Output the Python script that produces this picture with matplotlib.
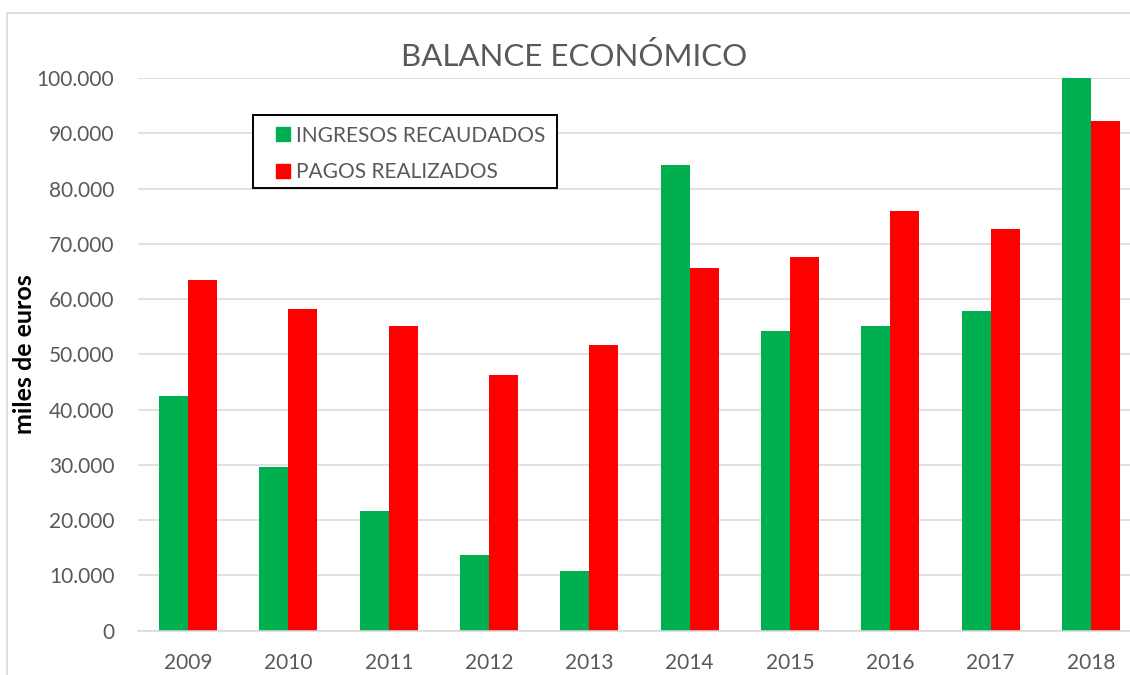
import matplotlib
matplotlib.use("Agg")
import matplotlib.pyplot as plt
import matplotlib.patches as mpatches
from matplotlib.ticker import FuncFormatter, MultipleLocator
import numpy as np

plt.rcParams['font.family'] = ['Lato', 'DejaVu Sans']

years = ['2009', '2010', '2011', '2012', '2013', '2014', '2015', '2016', '2017', '2018']
ingresos = [42500, 29600, 21700, 13700, 10800, 84300, 54300, 55200, 57900, 100000]
pagos = [63500, 58200, 55100, 46200, 51700, 65700, 67600, 76000, 72600, 92200]

GREEN = '#00B050'
RED = '#FF0000'
GREY_TXT = '#595959'
GRID = '#D9D9D9'


def miles(v, pos):
    return f"{int(v):,}".replace(",", ".")


fig = plt.figure(figsize=(11.3, 6.75), dpi=100)
ax = fig.add_axes([138 / 1130, 44.3 / 675, 1003 / 1130, 552.7 / 675])

x = np.arange(len(years))
w = 0.289
ax.bar(x - w / 2, ingresos, w, color=GREEN, zorder=3)
ax.bar(x + w / 2, pagos, w, color=RED, zorder=3)

ax.set_xlim(-0.5, 9.5)
ax.set_ylim(0, 100000)
ax.yaxis.set_major_locator(MultipleLocator(10000))
ax.yaxis.set_major_formatter(FuncFormatter(miles))
ax.set_xticks(x)
ax.set_xticklabels(years)

ax.grid(axis='y', color=GRID, linewidth=1.1, zorder=0)
ax.set_axisbelow(True)
for s in ['top', 'right', 'left']:
    ax.spines[s].set_visible(False)
ax.spines['bottom'].set_color(GRID)
ax.spines['bottom'].set_linewidth(1.1)
ax.spines['bottom'].set_zorder(4)

ax.tick_params(axis='both', length=0, labelsize=15, labelcolor=GREY_TXT)
ax.tick_params(axis='y', pad=17)
ax.tick_params(axis='x', pad=16)

fig.text(25 / 1130, 1 - 354 / 675, 'miles de euros', rotation=90, fontsize=18,
         fontweight='bold', color='black', ha='center', va='center')
fig.text(574 / 1130, 1 - 57 / 675, 'BALANCE ECONÓMICO', fontsize=22.5,
         color=GREY_TXT, ha='center', va='center')

# legend frame drawn separately so padding can differ left/top
frame = mpatches.Rectangle((253 / 1130, 1 - 188 / 675), 304 / 1130, 73 / 675,
                           transform=fig.transFigure, fill=True, facecolor='white',
                           edgecolor='black', linewidth=1.4, zorder=5)
fig.patches.append(frame)

handles = [mpatches.Patch(color=GREEN, label='INGRESOS RECAUDADOS'),
           mpatches.Patch(color=RED, label='PAGOS REALIZADOS')]
leg = fig.legend(handles=handles, loc='upper left', bbox_to_anchor=(276 / 1130, 1 - 125.5 / 675),
                 bbox_transform=fig.transFigure, borderaxespad=0, borderpad=0, fontsize=15,
                 frameon=False, handlelength=0.65, handleheight=0.65,
                 handletextpad=0.32, labelspacing=0.79)
leg.set_zorder(6)
for t in leg.get_texts():
    t.set_color(GREY_TXT)

border = mpatches.Rectangle((7 / 1130, -0.1), 1.2, 1.1 - 13 / 675, transform=fig.transFigure,
                            fill=False, edgecolor=GRID, linewidth=1.2)
fig.patches.append(border)

fig.savefig('out.png', dpi=100)
